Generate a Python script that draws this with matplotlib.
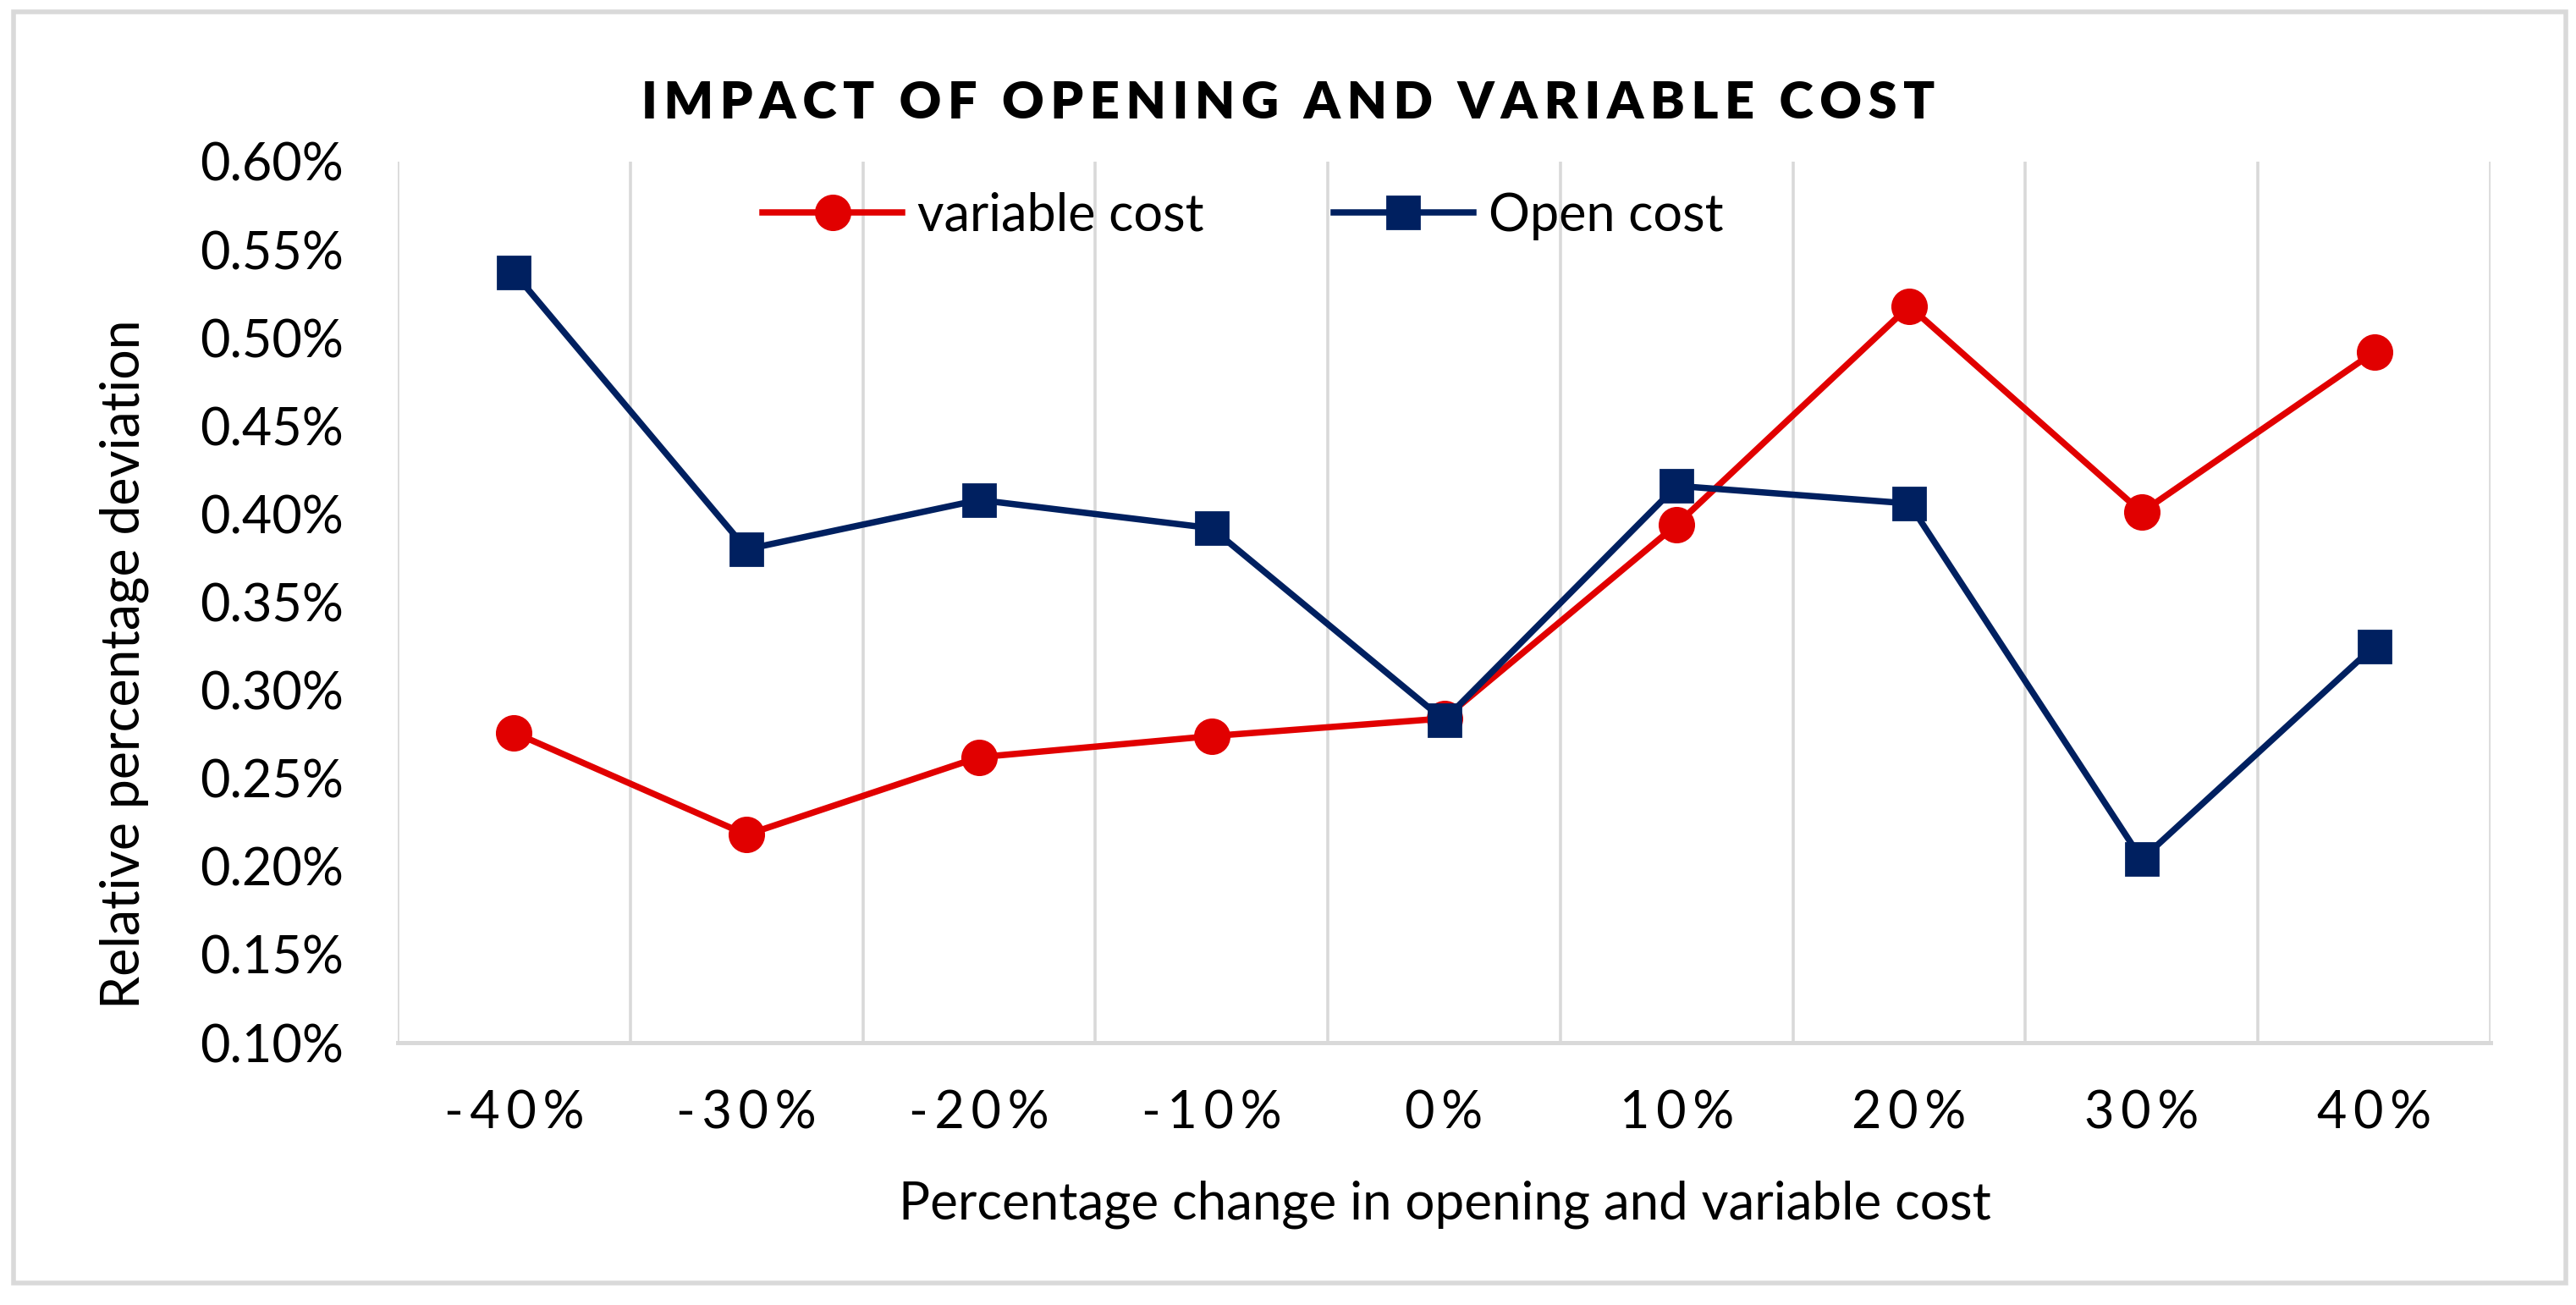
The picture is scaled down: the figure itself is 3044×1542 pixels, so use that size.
import numpy as np
import matplotlib
matplotlib.use("Agg")
import matplotlib.pyplot as plt
from matplotlib.patches import Rectangle
from matplotlib.ticker import FuncFormatter

plt.rcParams['font.family'] = ['Lato', 'DejaVu Sans']

# ---- data ----
categories = ['-40%', '-30%', '-20%', '-10%', '0%', '10%', '20%', '30%', '40%']
variable_cost = [0.276, 0.218, 0.262, 0.274, 0.284, 0.394, 0.518, 0.401, 0.492]   # in %
open_cost = [0.537, 0.380, 0.408, 0.392, 0.283, 0.416, 0.406, 0.204, 0.325]       # in %
y_ticks = [0.10, 0.15, 0.20, 0.25, 0.30, 0.35, 0.40, 0.45, 0.50, 0.55, 0.60]

red = '#E10000'
navy = '#002060'
grid_grey = '#D9D9D9'

fig = plt.figure(figsize=(15.22, 7.71), dpi=200)
ax = fig.add_axes([470/3044, 1-1232/1542, (2943-470)/3044, (1232-191)/1542])

x = np.arange(len(categories))
ax.plot(x, variable_cost, color=red, lw=2.7, marker='o', ms=14.5, label='variable cost', zorder=3)
ax.plot(x, open_cost, color=navy, lw=2.7, marker='s', ms=13.5, label='Open cost', zorder=4)

ax.set_xlim(-0.5, len(categories)-0.5)
ax.set_ylim(0.10, 0.60)
ax.set_yticks(y_ticks)
ax.yaxis.set_major_formatter(FuncFormatter(lambda v, p: f'{v:.2f}%'))
ax.set_xticks(x)
ax.set_xticklabels(['\u2009'.join(c) for c in categories])

# vertical grid between categories (Excel style)
ax.set_xticks(np.arange(-0.5, len(categories)), minor=True)
ax.grid(which='minor', axis='x', color=grid_grey, lw=1.3)
ax.tick_params(which='both', length=0)
ax.tick_params(axis='y', labelsize=22, pad=23)
ax.tick_params(axis='x', labelsize=22, pad=20)

for s in ['top', 'right', 'left']:
    ax.spines[s].set_visible(False)
ax.spines['bottom'].set_color(grid_grey)
ax.spines['bottom'].set_linewidth(1.8)

fig.text(147/3044, 1-785/1542, 'Relative percentage deviation', rotation=90,
         ha='center', va='center', fontsize=22.5)
fig.text(1707/3044, 1-1423/1542, 'Percentage change in opening and variable cost',
         ha='center', va='center', fontsize=22.3)

title = 'IMPACT OF OPENING AND VARIABLE COST'
fig.text(1522/3044, 1-122/1542, '\u2009'.join(title), ha='center', va='center',
         fontsize=22, fontweight='heavy')

fig.legend(loc='center', bbox_to_anchor=(1469/3044, 1-255/1542), ncol=2, frameon=False,
           fontsize=22, handlelength=2.7, handletextpad=0.3, columnspacing=2.5)

# chart border
fig.patches.append(Rectangle((16/3044, 1-1516/1542), (3032-16)/3044, (1516-14)/1542,
                             transform=fig.transFigure, fill=False, ec=grid_grey, lw=2.0))

fig.savefig('out.png', dpi=200, facecolor='white')
